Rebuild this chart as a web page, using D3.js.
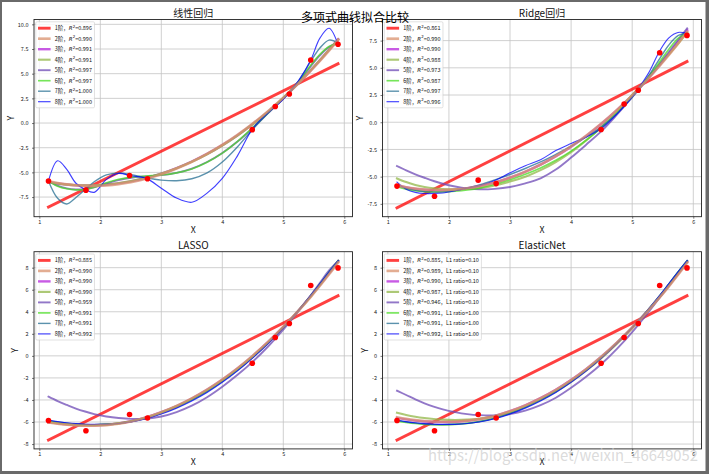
<!DOCTYPE html>
<html>
<head>
<meta charset="utf-8">
<script src="https://cdn.jsdelivr.net/npm/d3@7"></script>
<style>
  body { margin: 0; background: #fff; }
  svg { display: block; }
  text { font-family: "Noto Sans CJK SC", "DejaVu Sans", sans-serif; }
</style>
</head>
<body>
<script>
// sample points (red dots)
const xPts = [1.150, 1.764, 2.479, 2.773, 4.491, 4.868, 5.099, 5.450, 5.897];
const yPts = [-5.87, -6.80, -5.32, -5.64, -0.67, 1.67, 2.94, 6.39, 7.98];

const xGrid = [1.15, 1.3, 1.45, 1.6, 1.75, 1.9, 2.1, 2.3, 2.5, 2.75, 3.0, 3.25, 3.5, 3.75, 4.0, 4.25, 4.5, 4.75, 5.0, 5.25, 5.45, 5.6, 5.75, 5.9];
const xEnds = [1.150, 5.897]; // degree-1 fits are straight lines

const degLabels = ["1阶", "2阶", "3阶", "4阶", "5阶", "6阶", "7阶", "8阶"];
const xTicks = [1, 2, 3, 4, 5, 6];
const yTicksTop = [-7.5, -5, -2.5, 0, 2.5, 5, 7.5, 10];
const yTicksBottom = [-8, -6, -4, -2, 0, 2, 4, 6, 8];

// 线性回归
const linearR2 = ["0.896", "0.990", "0.991", "0.991", "0.997", "0.997", "1.000", "1.000"];
const linearCurves = [
  [-8.51, 6.00],
  [-5.91, -6.08, -6.21, -6.30, -6.35, -6.36, -6.31, -6.19, -5.99, -5.65, -5.19, -4.61, -3.93, -3.13, -2.22, -1.19, -0.05, 1.20, 2.57, 4.04, 5.31, 6.30, 7.34, 8.42],
  [-5.97, -6.12, -6.23, -6.30, -6.33, -6.32, -6.25, -6.11, -5.91, -5.57, -5.12, -4.56, -3.90, -3.13, -2.24, -1.23, -0.10, 1.15, 2.53, 4.03, 5.33, 6.36, 7.42, 8.50],
  [-5.99, -6.14, -6.24, -6.30, -6.32, -6.30, -6.22, -6.08, -5.88, -5.55, -5.11, -4.57, -3.93, -3.17, -2.28, -1.27, -0.12, 1.14, 2.53, 4.04, 5.36, 6.38, 7.43, 8.48],
  [-5.87, -6.35, -6.62, -6.73, -6.70, -6.52, -6.12, -5.78, -5.55, -5.40, -5.28, -5.05, -4.62, -3.95, -3.03, -1.88, -0.50, 1.00, 2.50, 4.15, 5.75, 6.85, 7.70, 8.15],
  [-5.87, -6.40, -6.66, -6.77, -6.72, -6.50, -6.05, -5.70, -5.50, -5.37, -5.27, -5.05, -4.65, -3.98, -3.05, -1.85, -0.45, 1.03, 2.55, 4.20, 5.85, 6.95, 7.75, 8.10],
  [-5.87, -7.63, -8.20, -7.55, -6.75, -5.95, -5.25, -5.07, -5.23, -5.55, -5.78, -5.85, -5.65, -5.05, -3.95, -2.40, -0.62, 1.00, 2.45, 4.25, 6.25, 7.60, 8.40, 8.10],
  [-5.87, -3.82, -4.70, -6.10, -6.72, -7.02, -5.71, -5.10, -5.34, -5.61, -6.60, -7.60, -8.03, -7.10, -5.60, -3.30, -0.55, 1.05, 2.40, 4.30, 6.39, 8.60, 9.60, 7.90]
];

// Ridge回归
const ridgeR2 = ["0.861", "0.990", "0.990", "0.988", "0.973", "0.987", "0.997", "0.996"];
const ridgeCurves = [
  [-7.86, 5.58],
  [-5.80, -5.97, -6.10, -6.19, -6.23, -6.24, -6.19, -6.07, -5.88, -5.55, -5.10, -4.55, -3.89, -3.11, -2.22, -1.22, -0.10, 1.13, 2.47, 3.93, 5.19, 6.19, 7.23, 8.30],
  [-5.84, -6.00, -6.12, -6.20, -6.24, -6.24, -6.18, -6.05, -5.86, -5.53, -5.09, -4.55, -3.90, -3.13, -2.25, -1.25, -0.13, 1.11, 2.47, 3.96, 5.24, 6.27, 7.34, 8.45],
  [-5.16, -5.50, -5.76, -5.95, -6.08, -6.15, -6.17, -6.13, -6.05, -5.80, -5.45, -5.00, -4.40, -3.65, -2.75, -1.65, -0.40, 1.00, 2.50, 4.05, 5.30, 6.25, 7.20, 8.25],
  [-4.03, -4.42, -4.78, -5.10, -5.40, -5.65, -5.90, -6.08, -6.17, -6.12, -5.95, -5.62, -5.15, -4.35, -3.25, -2.05, -0.80, 0.70, 2.30, 3.95, 5.35, 6.45, 7.55, 8.62],
  [-5.93, -6.15, -6.30, -6.38, -6.40, -6.39, -6.33, -6.22, -6.05, -5.70, -5.28, -4.78, -4.20, -3.50, -2.65, -1.65, -0.50, 0.85, 2.40, 4.05, 5.55, 6.70, 7.70, 8.20],
  [-5.75, -6.05, -6.25, -6.38, -6.42, -6.40, -6.28, -6.05, -5.75, -5.30, -4.80, -4.25, -3.65, -2.95, -2.20, -1.35, -0.40, 0.80, 2.30, 4.10, 5.85, 7.10, 7.95, 8.20],
  [-5.50, -6.15, -6.45, -6.55, -6.55, -6.50, -6.30, -6.05, -5.85, -5.35, -4.65, -4.00, -3.45, -2.60, -1.95, -1.35, -0.55, 0.75, 2.35, 4.35, 6.55, 7.75, 8.25, 8.15]
];

// LASSO
const lassoR2 = ["0.885", "0.990", "0.990", "0.990", "0.959", "0.991", "0.991", "0.992"];
const lassoCurves = [
  [-7.63, 5.45],
  [-6.05, -6.15, -6.24, -6.30, -6.33, -6.33, -6.28, -6.15, -5.95, -5.60, -5.12, -4.55, -3.86, -3.06, -2.15, -1.12, 0.02, 1.27, 2.63, 4.10, 5.36, 6.36, 7.40, 8.48],
  [-6.02, -6.12, -6.21, -6.27, -6.30, -6.30, -6.25, -6.12, -5.93, -5.58, -5.11, -4.55, -3.87, -3.08, -2.17, -1.14, 0.00, 1.26, 2.63, 4.12, 5.40, 6.42, 7.48, 8.58],
  [-6.00, -6.10, -6.19, -6.26, -6.29, -6.29, -6.24, -6.12, -5.93, -5.59, -5.13, -4.58, -3.91, -3.13, -2.22, -1.19, -0.05, 1.22, 2.60, 4.11, 5.41, 6.44, 7.53, 8.62],
  [-3.70, -4.10, -4.45, -4.78, -5.05, -5.28, -5.50, -5.64, -5.72, -5.70, -5.50, -5.10, -4.52, -3.75, -2.80, -1.72, -0.52, 0.85, 2.38, 4.08, 5.50, 6.62, 7.75, 8.62],
  [-5.92, -6.04, -6.14, -6.21, -6.25, -6.26, -6.22, -6.12, -5.95, -5.63, -5.18, -4.63, -3.97, -3.19, -2.28, -1.25, -0.10, 1.18, 2.58, 4.12, 5.45, 6.50, 7.60, 8.62],
  [-5.88, -6.00, -6.10, -6.18, -6.22, -6.24, -6.21, -6.12, -5.96, -5.66, -5.22, -4.68, -4.02, -3.25, -2.33, -1.30, -0.14, 1.15, 2.56, 4.12, 5.46, 6.52, 7.60, 8.63],
  [-5.82, -5.96, -6.07, -6.15, -6.20, -6.22, -6.21, -6.14, -6.00, -5.71, -5.28, -4.74, -4.09, -3.32, -2.40, -1.36, -0.18, 1.12, 2.55, 4.13, 5.48, 6.55, 7.62, 8.64]
];

// ElasticNet
const enetR2 = ["0.885", "0.989", "0.990", "0.987", "0.946", "0.991", "0.991", "0.992"];
const enetL1 = ["0.10", "0.10", "0.10", "0.10", "0.10", "1.00", "1.00", "1.00"];
const enetCurves = [
  [-7.63, 5.45],
  [-5.58, -5.72, -5.83, -5.91, -5.96, -5.98, -5.96, -5.88, -5.74, -5.45, -5.03, -4.50, -3.85, -3.09, -2.20, -1.19, -0.06, 1.19, 2.55, 4.03, 5.30, 6.31, 7.36, 8.45],
  [-5.62, -5.76, -5.87, -5.95, -6.00, -6.01, -5.98, -5.89, -5.74, -5.44, -5.01, -4.48, -3.83, -3.07, -2.19, -1.19, -0.06, 1.20, 2.57, 4.06, 5.34, 6.36, 7.43, 8.52],
  [-5.16, -5.36, -5.52, -5.64, -5.73, -5.79, -5.82, -5.79, -5.70, -5.46, -5.09, -4.60, -3.98, -3.23, -2.35, -1.33, -0.18, 1.10, 2.50, 4.03, 5.33, 6.37, 7.46, 8.58],
  [-3.16, -3.55, -3.95, -4.30, -4.60, -4.85, -5.10, -5.28, -5.38, -5.40, -5.27, -4.97, -4.48, -3.80, -2.90, -1.88, -0.72, 0.63, 2.15, 3.85, 5.30, 6.45, 7.55, 8.62],
  [-5.92, -6.04, -6.14, -6.21, -6.25, -6.26, -6.22, -6.12, -5.95, -5.63, -5.18, -4.63, -3.97, -3.19, -2.28, -1.25, -0.10, 1.18, 2.58, 4.12, 5.45, 6.50, 7.60, 8.62],
  [-5.88, -6.00, -6.10, -6.18, -6.22, -6.24, -6.21, -6.12, -5.96, -5.66, -5.22, -4.68, -4.02, -3.25, -2.33, -1.30, -0.14, 1.15, 2.56, 4.12, 5.46, 6.52, 7.60, 8.63],
  [-5.82, -5.96, -6.07, -6.15, -6.20, -6.22, -6.21, -6.14, -6.00, -5.71, -5.28, -4.74, -4.09, -3.32, -2.40, -1.36, -0.18, 1.12, 2.55, 4.13, 5.48, 6.55, 7.62, 8.64]
];

const colors = ["#ff0000", "#da926d", "#b624db", "#91b748", "#6d49b6", "#48dc23", "#246e91", "#0000ff"];
const lineWidths = [2.9, 2.65, 2.4, 2.15, 1.9, 1.65, 1.4, 1.15];

const W = 709, H = 474;
const xDomain = [0.9126, 6.1344];
const fmtTop = d => d.toFixed(1);
const fmtBottom = d => String(d);

const panels = [
  { title: "线性回归", curves: linearCurves, r2: linearR2, l1: null, yDomain: [-9.49, 10.49], yTicks: yTicksTop, fmt: fmtTop, box: [34, 19.5, 352.5, 216.7], yLabelX: 11 },
  { title: "Ridge回归", curves: ridgeCurves, r2: ridgeR2, l1: null, yDomain: [-8.68, 9.44], yTicks: yTicksTop, fmt: fmtTop, box: [382.5, 19.5, 701.5, 216.7], yLabelX: 360 },
  { title: "LASSO", curves: lassoCurves, r2: lassoR2, l1: null, yDomain: [-8.44, 9.45], yTicks: yTicksBottom, fmt: fmtBottom, box: [34, 251.7, 352.5, 448.9], yLabelX: 15 },
  { title: "ElasticNet", curves: enetCurves, r2: enetR2, l1: enetL1, yDomain: [-8.44, 9.45], yTicks: yTicksBottom, fmt: fmtBottom, box: [382.5, 251.7, 701.5, 448.9], yLabelX: 365 }
];

const svg = d3.select("body").append("svg")
    .attr("width", W)
    .attr("height", H);

svg.append("rect").attr("width", W).attr("height", H).attr("fill", "#fff");

function drawPanel(p) {
    const [left, top, right, bottom] = p.box;
    const x = d3.scaleLinear().domain(xDomain).range([left, right]);
    const y = d3.scaleLinear().domain(p.yDomain).range([bottom, top]);
    const yTicks = p.yTicks.filter(t => t >= p.yDomain[0] && t <= p.yDomain[1]);
    const g = svg.append("g");

    // grid
    g.selectAll(".gx").data(xTicks).join("line")
        .attr("x1", d => x(d)).attr("x2", d => x(d))
        .attr("y1", top).attr("y2", bottom)
        .attr("stroke", "#c4c4c4").attr("stroke-width", 0.8);
    g.selectAll(".gy").data(yTicks).join("line")
        .attr("x1", left).attr("x2", right)
        .attr("y1", d => y(d)).attr("y2", d => y(d))
        .attr("stroke", "#c4c4c4").attr("stroke-width", 0.8);

    // fitted curves, 2nd degree on top like the original zorder
    const line = d3.line()
        .x(d => x(d[0]))
        .y(d => y(d[1]))
        .curve(d3.curveCatmullRom.alpha(0.5));
    const order = [0, 2, 3, 4, 5, 6, 7, 1];
    order.forEach(i => {
        const ys = p.curves[i];
        const xs = i === 0 ? xEnds : xGrid;
        g.append("path")
            .attr("d", line(xs.map((v, k) => [v, ys[k]])))
            .attr("fill", "none")
            .attr("stroke", colors[i])
            .attr("stroke-opacity", 0.75)
            .attr("stroke-width", lineWidths[i])
            .attr("stroke-linecap", "square")
            .attr("stroke-linejoin", "round");
    });

    // data points
    g.selectAll(".pt").data(xPts).join("circle")
        .attr("cx", d => x(d))
        .attr("cy", (d, i) => y(yPts[i]))
        .attr("r", 2.8)
        .attr("fill", "#ff0000");

    // spines
    g.append("rect")
        .attr("x", left).attr("y", top)
        .attr("width", right - left).attr("height", bottom - top)
        .attr("fill", "none").attr("stroke", "#222").attr("stroke-width", 0.9);

    // axes
    const ax = g.append("g").attr("transform", `translate(0,${bottom})`)
        .call(d3.axisBottom(x).tickValues(xTicks).tickSize(2).tickPadding(1.5).tickFormat(d3.format("d")));
    const ay = g.append("g").attr("transform", `translate(${left},0)`)
        .call(d3.axisLeft(y).tickValues(yTicks).tickSize(2).tickPadding(3.5).tickFormat(p.fmt));
    [ax, ay].forEach(a => {
        a.select(".domain").remove();
        a.selectAll("line").attr("stroke", "#222").attr("stroke-width", 0.6);
        a.selectAll("text").attr("font-size", 5.5).attr("fill", "#222")
            .attr("font-family", "\"Noto Sans CJK SC\", sans-serif");
    });

    // titles and labels
    g.append("text")
        .attr("x", (left + right) / 2).attr("y", top - 3)
        .attr("text-anchor", "middle").attr("font-size", 10).attr("fill", "#111")
        .text(p.title);
    g.append("text")
        .attr("x", (left + right) / 2).attr("y", bottom + 15.8)
        .attr("text-anchor", "middle").attr("font-size", 8.75).attr("fill", "#111")
        .text("X");
    g.append("text")
        .attr("transform", `translate(${p.yLabelX + 3},${(top + bottom) / 2}) rotate(-90)`)
        .attr("text-anchor", "middle").attr("font-size", 8.75).attr("fill", "#111")
        .text("Y");

    // legend
    const lg = g.append("g").attr("transform", `translate(${left + 1.8},${top + 2.3})`);
    const frame = lg.append("rect")
        .attr("fill", "#fff").attr("fill-opacity", 0.8)
        .attr("stroke", "#cccccc").attr("stroke-width", 0.6)
        .attr("rx", 1.2).attr("height", 86);
    let maxLen = 0;
    degLabels.forEach((lab, i) => {
        const ry = 6.4 + i * 10.5;
        lg.append("line")
            .attr("x1", 2.2).attr("x2", 14.8)
            .attr("y1", ry).attr("y2", ry)
            .attr("stroke", colors[i]).attr("stroke-opacity", 0.75)
            .attr("stroke-width", lineWidths[i]);
        const t = lg.append("text")
            .attr("x", 19).attr("y", ry + 2)
            .attr("font-size", 5.5).attr("fill", "#111");
        t.append("tspan").text(lab + "，");
        t.append("tspan").attr("font-family", "DejaVu Sans").attr("font-style", "italic").text("R");
        t.append("tspan").attr("font-family", "DejaVu Sans").attr("font-size", 3.9).attr("dy", -2.2).text("2");
        let rest = "=" + p.r2[i];
        if (p.l1) rest += "，L1 ratio=" + p.l1[i];
        t.append("tspan").attr("dy", 2.2).text(rest);
        maxLen = Math.max(maxLen, t.node().getComputedTextLength());
    });
    frame.attr("width", 19 + maxLen + 2.5);
}

panels.forEach(drawPanel);

// figure title
svg.append("text")
    .attr("x", 355).attr("y", 21.5)
    .attr("text-anchor", "middle")
    .attr("font-size", 12)
    .attr("fill", "#000")
    .text("多项式曲线拟合比较");

// watermark
svg.append("text")
    .attr("x", 428).attr("y", 460.5)
    .attr("font-family", "\"Liberation Sans\", sans-serif")
    .attr("font-size", 15.5)
    .attr("textLength", 270)
    .attr("lengthAdjust", "spacingAndGlyphs")
    .attr("fill", "#d2d2d2")
    .attr("fill-opacity", 0.8)
    .text("https://blog.csdn.net/weixin_46649052");

// window frame
const frameColor = "#6a6a6a";
svg.append("rect").attr("x", 0).attr("y", 0).attr("width", W).attr("height", 2).attr("fill", frameColor);
svg.append("rect").attr("x", 0).attr("y", 0).attr("width", 2).attr("height", H).attr("fill", frameColor);
svg.append("rect").attr("x", W - 3.5).attr("y", 0).attr("width", 3.5).attr("height", H).attr("fill", frameColor);
svg.append("rect").attr("x", 0).attr("y", H - 3).attr("width", W).attr("height", 3).attr("fill", frameColor);
</script>
</body>
</html>
